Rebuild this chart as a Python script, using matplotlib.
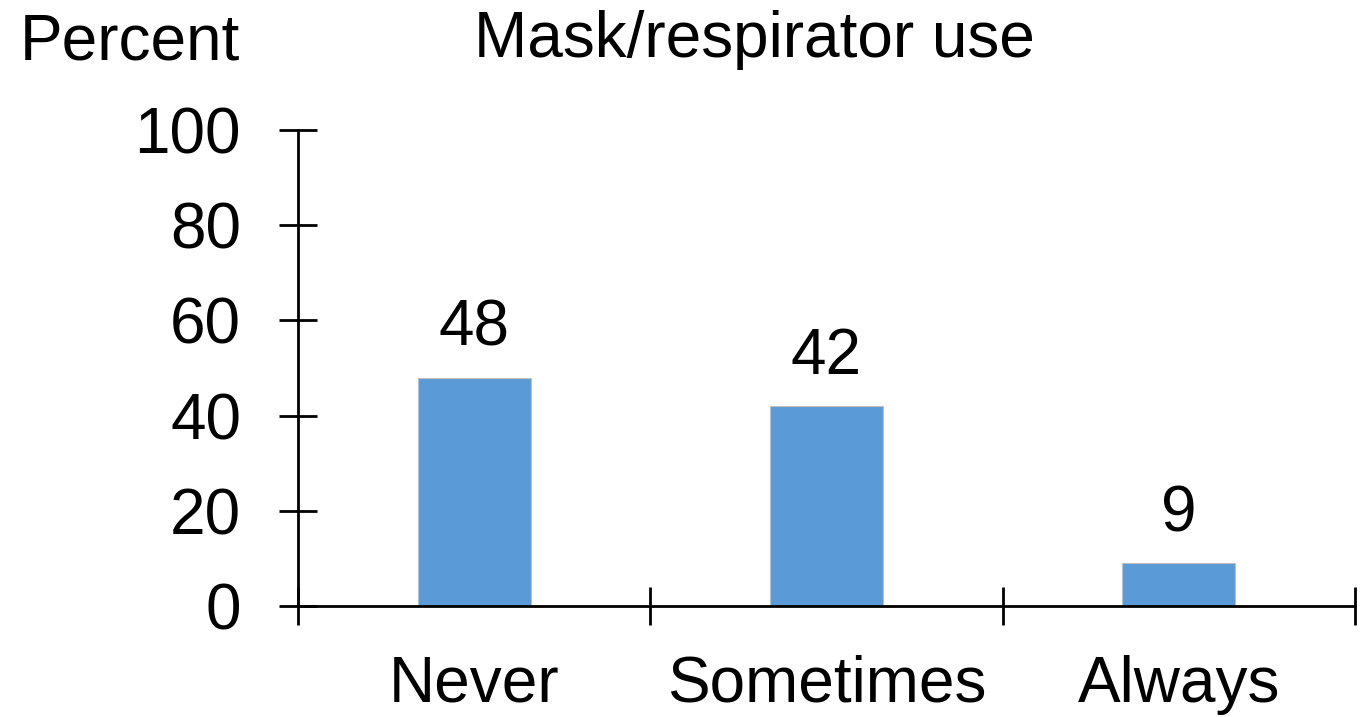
import matplotlib
matplotlib.use("Agg")
import matplotlib.pyplot as plt

categories = ["Never", "Sometimes", "Always"]
values = [48, 42, 9]
yticks = [0, 20, 40, 60, 80, 100]
title = "Mask/respirator use"
ylabel = "Percent"

plt.rcParams['font.family'] = ['Liberation Sans', 'DejaVu Sans']
FS = 46

W, H = 1369, 717
fig = plt.figure(figsize=(W / 100, H / 100), dpi=100)
ax = fig.add_axes([298 / W, 1 - 606 / H, (1355 - 298) / W, (606 - 130) / H])

x = list(range(len(categories)))
ax.bar(x, values, width=0.32, color="#5B9BD5", edgecolor="#BFBFBF", linewidth=0.8, zorder=2)
for xi, v in zip(x, values):
    ax.annotate(str(v), (xi, v), xytext=(0, 23), textcoords="offset points",
                ha="center", va="baseline", fontsize=FS)

ax.set_xlim(-0.5, len(categories) - 0.5)
ax.set_ylim(0, 100)
ax.set_yticks(yticks)
ax.set_yticklabels([str(t) for t in yticks], fontsize=FS)
ax.set_xticks([i - 0.5 for i in range(len(categories) + 1)])
ax.set_xticklabels([""] * (len(categories) + 1))
ax.set_xticks(x, minor=True)
ax.set_xticklabels(categories, minor=True, fontsize=FS)
ax.tick_params(axis="x", which="minor", length=0, pad=35)
ax.tick_params(axis="x", which="major", direction="inout", length=28, width=2.0)
ax.tick_params(axis="y", direction="inout", length=28, width=2.0, pad=27)
for s in ["top", "right"]:
    ax.spines[s].set_visible(False)
for s in ["left", "bottom"]:
    ax.spines[s].set_linewidth(2.0)
    ax.spines[s].set_color("black")
    ax.spines[s].set_zorder(3)

fig.text(20 / W, 1 - 60 / H, ylabel, fontsize=FS, ha="left", va="baseline")
fig.text(754 / W, 1 - 57 / H, title, fontsize=FS, ha="center", va="baseline")

fig.savefig("out.png", dpi=100, facecolor="white")
